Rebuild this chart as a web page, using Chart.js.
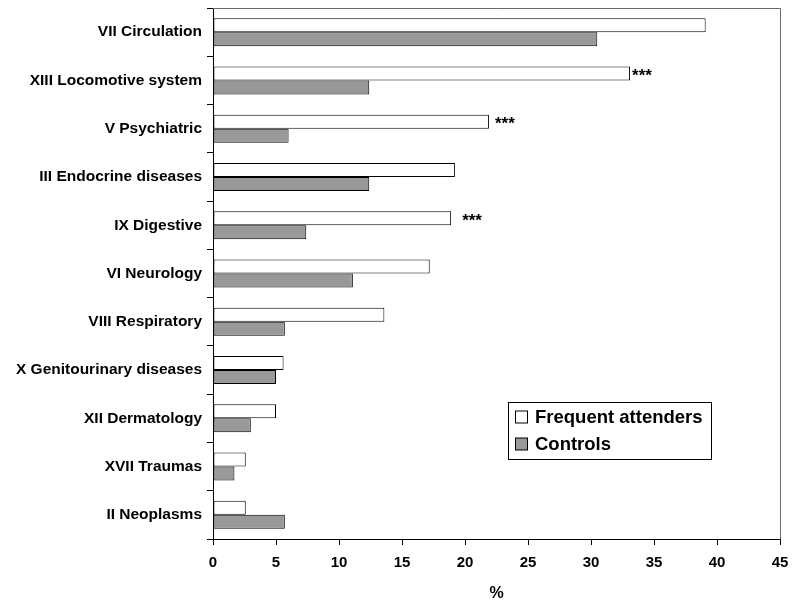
<!DOCTYPE html>
<html>
<head>
<meta charset="utf-8">
<script src="https://cdn.jsdelivr.net/npm/chart.js@4/dist/chart.umd.min.js"></script>
<style>
  html, body { margin: 0; padding: 0; background: #fff; }
  #wrap { width: 792px; height: 604px; }
</style>
</head>
<body>
<div id="wrap"><canvas id="c" width="792" height="604"></canvas></div>
<script>
// Diagnosis groups (ICD chapters), top to bottom
const categories = [
  'VII Circulation',
  'XIII Locomotive system',
  'V Psychiatric',
  'III Endocrine diseases',
  'IX Digestive',
  'VI Neurology',
  'VIII Respiratory',
  'X Genitourinary diseases',
  'XII Dermatology',
  'XVII Traumas',
  'II Neoplasms'
];

// Share of patients (%) in each group
const frequentAttenders = [39.1, 33.1, 21.9, 19.2, 18.9, 17.2, 13.6, 5.6, 5.0, 2.6, 2.6];
const controls          = [30.5, 12.4, 6.0, 12.4, 7.4, 11.1, 5.7, 5.0, 3.0, 1.7, 5.7];

// Significance marks shown after the frequent-attender bar
const significance = ['', '***', '***', '', '***', '', '', '', '', '', ''];

// Value axis ticks
const xTicks = [0, 5, 10, 15, 20, 25, 30, 35, 40, 45];

const FONT = '"Liberation Sans", Arial, Helvetica, sans-serif';

// Gray frame on the top and right of the plot area
const frameBorder = {
  id: 'frameBorder',
  afterDatasetsDraw(chart) {
    const { ctx, chartArea: a } = chart;
    ctx.save();
    ctx.strokeStyle = '#6a6a6a';
    ctx.lineWidth = 1;
    ctx.beginPath();
    ctx.moveTo(a.left, a.top + 0.5);
    ctx.lineTo(Math.round(a.right) + 0.5, a.top + 0.5);
    ctx.lineTo(Math.round(a.right) + 0.5, a.bottom);
    ctx.stroke();
    ctx.restore();
  }
};

// Asterisks next to the frequent-attender bars
const starMarks = {
  id: 'starMarks',
  afterDatasetsDraw(chart, args, opts) {
    const { ctx } = chart;
    const meta = chart.getDatasetMeta(0);
    ctx.save();
    ctx.font = 'bold 17px ' + FONT;
    ctx.fillStyle = '#000';
    ctx.textAlign = 'left';
    ctx.textBaseline = 'middle';
    significance.forEach((mark, i) => {
      if (!mark) return;
      const bar = meta.data[i];
      const gap = opts.gaps[i] || 3;
      ctx.fillText(mark, bar.x + gap, bar.y + 3);
    });
    ctx.restore();
  }
};

// Boxed legend inside the plot area
const boxLegend = {
  id: 'boxLegend',
  afterDraw(chart, args, opts) {
    const { ctx, chartArea: a } = chart;
    const x = a.left + opts.dx, y = a.top + opts.dy;
    ctx.save();
    ctx.fillStyle = '#fff';
    ctx.fillRect(x, y, opts.width, opts.height);
    ctx.strokeStyle = '#000';
    ctx.lineWidth = 1;
    ctx.strokeRect(x + 0.5, y + 0.5, opts.width, opts.height);
    ctx.font = 'bold 18.5px ' + FONT;
    ctx.textBaseline = 'middle';
    ctx.textAlign = 'left';
    chart.data.datasets.forEach((ds, i) => {
      const cy = y + opts.firstRow + i * opts.rowGap;
      ctx.fillStyle = ds.backgroundColor;
      ctx.fillRect(x + 7.5, cy - 6, 12, 12);
      ctx.strokeStyle = '#000';
      ctx.strokeRect(x + 7.5, cy - 6, 12, 12);
      ctx.fillStyle = '#000';
      ctx.fillText(ds.label, x + 27, cy + 1);
    });
    ctx.restore();
  }
};

new Chart(document.getElementById('c'), {
  type: 'bar',
  data: {
    labels: categories,
    datasets: [
      {
        label: 'Frequent attenders',
        data: frequentAttenders,
        backgroundColor: '#ffffff',
        borderColor: '#000000',
        borderWidth: 1,
        borderSkipped: false
      },
      {
        label: 'Controls',
        data: controls,
        backgroundColor: '#999999',
        borderColor: '#000000',
        borderWidth: 1,
        borderSkipped: false
      }
    ]
  },
  options: {
    indexAxis: 'y',
    responsive: false,
    animation: false,
    devicePixelRatio: 1,
    categoryPercentage: 0.58,
    barPercentage: 1,
    layout: { padding: { top: 8, right: 12, bottom: 0, left: 0 } },
    plugins: {
      legend: { display: false },
      tooltip: { enabled: false },
      starMarks: { gaps: [0, 2, 6, 0, 11, 0, 0, 0, 0, 0, 0] },
      boxLegend: { dx: 295, dy: 394, width: 203, height: 57, firstRow: 15, rowGap: 27 }
    },
    scales: {
      x: {
        type: 'linear',
        min: 0,
        max: 45,
        afterBuildTicks(scale) { scale.ticks = xTicks.map(v => ({ value: v })); },
        afterFit(scale) {
          scale.height = 65;
          scale.paddingLeft = 0;
          scale.paddingRight = 0;
        },
        border: { display: true, color: '#000', width: 1 },
        grid: { drawOnChartArea: false, drawTicks: true, tickLength: 6, color: '#000' },
        ticks: {
          color: '#000',
          padding: 9,
          maxRotation: 0,
          font: { family: FONT, size: 15, weight: 'bold' }
        },
        title: {
          display: true,
          text: '%',
          color: '#000',
          font: { family: FONT, size: 16, weight: 'bold' },
          padding: { top: 4, bottom: 1 }
        }
      },
      y: {
        type: 'category',
        afterFit(scale) {
          scale.width = 213;
          scale.paddingTop = 0;
          scale.paddingBottom = 0;
        },
        border: { display: true, color: '#000', width: 1 },
        grid: { offset: true, drawOnChartArea: false, drawTicks: true, tickLength: 6, color: '#000' },
        ticks: {
          color: '#000',
          padding: 5,
          font: { family: FONT, size: 15.5, weight: 'bold' }
        }
      }
    }
  },
  plugins: [frameBorder, starMarks, boxLegend]
});
</script>
</body>
</html>
